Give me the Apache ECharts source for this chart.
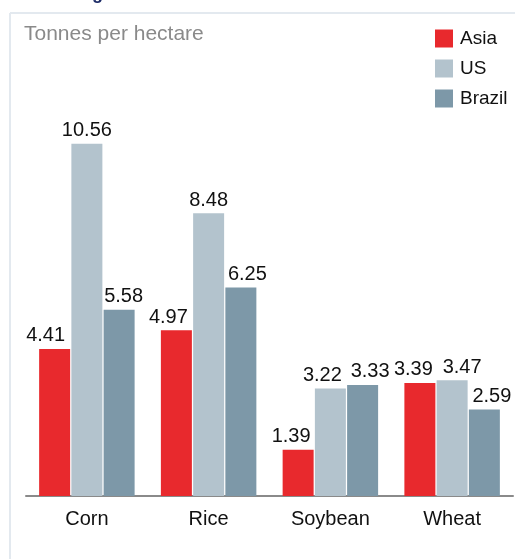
<!DOCTYPE html>
<html><head><meta charset="utf-8">
<script src="https://cdn.jsdelivr.net/npm/echarts@6/dist/echarts.min.js"></script>
<style>html,body{margin:0;padding:0;background:#fff}#c{width:515px;height:559px}</style>
</head><body><div id="c"></div>
<script>
var categories = ['Corn', 'Rice', 'Soybean', 'Wheat'];
var asia = [4.41, 4.97, 1.39, 3.39];
var us = [10.56, 8.48, 3.22, 3.47];
var brazil = [5.58, 6.25, 3.33, 2.59];
var seriesNames = ['Asia', 'US', 'Brazil'];
var colors = ['#e8292d', '#b3c3cd', '#7d98a8'];
// horizontal nudges of the value labels (layout only)
var labelShift = [[-9, -8, -7, -6.5], [0, 0, -8, 10], [4.5, 6.5, 7.5, 7.5]];

var chart = echarts.init(document.getElementById('c'), null, {renderer: 'canvas'});
var font = 'Liberation Sans, Arial, sans-serif';
function bar(idx, data) {
  return {
    name: seriesNames[idx], type: 'bar', barWidth: 31, barGap: '4%',
    data: data.map(function (v, i) { return {value: v, label: {offset: [labelShift[idx][i], 0]}}; }),
    itemStyle: {color: colors[idx]},
    label: {show: true, position: 'top', distance: 3, color: '#111', fontSize: 20, fontFamily: font,
      formatter: function (p) { return p.value.toFixed(2); }},
    emphasis: {disabled: true}
  };
}
chart.setOption({
  animation: false,
  color: colors,
  graphic: [
    {type: 'line', shape: {x1: 10, y1: 13, x2: 515, y2: 13}, style: {stroke: '#e3e9ef', lineWidth: 2}},
    {type: 'line', shape: {x1: 10, y1: 13, x2: 10, y2: 559}, style: {stroke: '#e3e9ef', lineWidth: 2}},
    {type: 'text', left: 92, top: -15, style: {text: 'g', fill: '#1b2a66', font: 'bold 18px Liberation Sans, Arial, sans-serif'}},
    {type: 'text', left: 24, top: 24, style: {text: 'Tonnes per hectare', fill: '#8a8a8a', font: '21px Liberation Sans, Arial, sans-serif'}}
  ],
  legend: {
    orient: 'vertical', left: 435, top: 29, padding: 0, itemWidth: 18, itemHeight: 18, itemGap: 11,
    icon: 'rect', selectedMode: false,
    textStyle: {color: '#111', fontSize: 19, fontFamily: font, padding: [0, 0, 0, 2]},
    data: seriesNames
  },
  grid: {left: 26, right: 2, top: 29, bottom: 63, containLabel: false},
  xAxis: {
    type: 'category', data: categories,
    axisLine: {lineStyle: {color: '#8a8a8a', width: 2}},
    axisTick: {show: false},
    axisLabel: {color: '#111', fontSize: 20, fontFamily: font, margin: 13}
  },
  yAxis: {
    type: 'value', min: 0, max: 14, show: false, splitLine: {show: false}
  },
  series: [bar(0, asia), bar(1, us), bar(2, brazil)]
});
</script></body></html>
